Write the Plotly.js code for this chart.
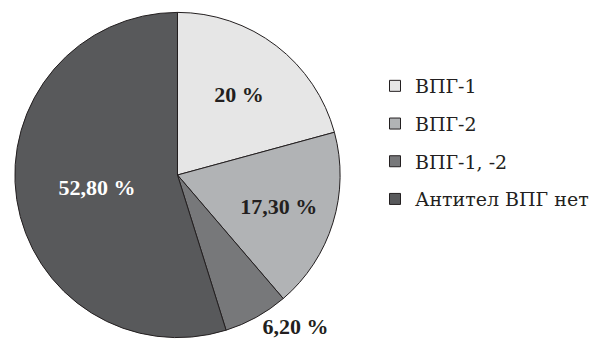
<!DOCTYPE html>
<html><head><meta charset="utf-8">
<script src="https://cdn.plot.ly/plotly-3.0.1.min.js"></script>
<style>html,body{margin:0;padding:0;background:#fff;}#chart{width:594px;height:354px;}</style>
</head><body><div id="chart"></div>
<script>
var categories = ["ВПГ-1", "ВПГ-2", "ВПГ-1, -2", "Антител ВПГ нет"];
var values = [20, 17.3, 6.2, 52.8];
var valueLabels = ["20 %", "17,30 %", "6,20 %", "52,80 %"];
var colors = ["#e6e6e6", "#b1b3b5", "#77787a", "#58595b"];
var textColors = ["#231f20", "#231f20", "#231f20", "#ffffff"];
var textPositions = ["inside", "inside", "outside", "inside"];

var traces = [{
  type: "pie",
  labels: categories,
  values: values,
  text: valueLabels,
  textinfo: "text",
  textposition: textPositions,
  insidetextorientation: "horizontal",
  sort: false,
  direction: "clockwise",
  rotation: 0,
  showlegend: false,
  marker: {colors: colors, line: {color: "#231f20", width: 1}},
  textfont: {family: "Liberation Serif", size: 22, color: textColors, weight: "bold"},
  insidetextfont: {family: "Liberation Serif", size: 22, color: textColors, weight: "bold"},
  outsidetextfont: {family: "Liberation Serif", size: 22, color: "#231f20", weight: "bold"},
  domain: {x: [15/594, 343/594], y: [14/354, 344/354]},
  hoverinfo: "none"
}];
categories.forEach(function(c, i) {
  traces.push({
    type: "scatter", mode: "markers", x: [null], y: [null], name: c,
    legendgroup: "g" + i,
    marker: {symbol: "square", size: 11, color: colors[i], line: {color: "#231f20", width: 1}},
    hoverinfo: "none"
  });
});

var layout = {
  width: 594, height: 354,
  margin: {l: 0, r: 0, t: 0, b: 0},
  paper_bgcolor: "#ffffff", plot_bgcolor: "#ffffff",
  xaxis: {visible: false}, yaxis: {visible: false},
  showlegend: true,
  legend: {
    x: 0.6367, y: 0.5975, xanchor: "left", yanchor: "middle",
    tracegroupgap: 10,
    font: {family: "DejaVu Serif", size: 19, color: "#231f20"},
    bgcolor: "rgba(0,0,0,0)"
  }
};
Plotly.newPlot("chart", traces, layout, {staticPlot: true});
</script>
</body></html>
